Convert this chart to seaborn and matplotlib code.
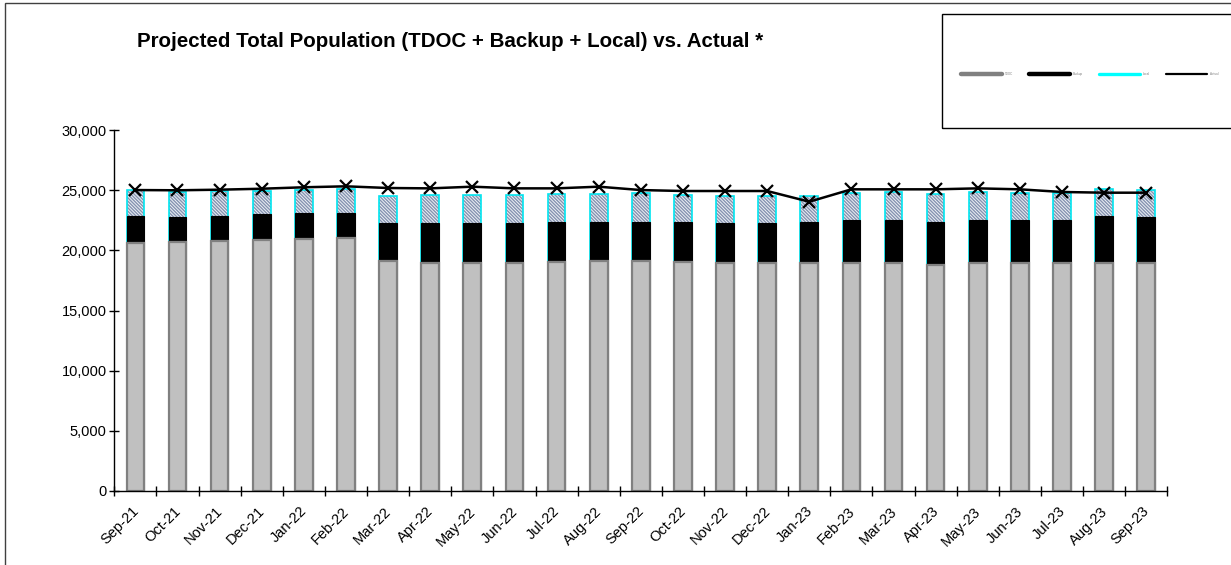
import numpy as np
import pandas as pd
import seaborn as sns
import matplotlib.pyplot as plt
from matplotlib.lines import Line2D
from matplotlib.patches import Rectangle
from matplotlib.transforms import ScaledTranslation

months = ["Sep-21", "Oct-21", "Nov-21", "Dec-21", "Jan-22", "Feb-22", "Mar-22",
          "Apr-22", "May-22", "Jun-22", "Jul-22", "Aug-22", "Sep-22", "Oct-22",
          "Nov-22", "Dec-22", "Jan-23", "Feb-23", "Mar-23", "Apr-23", "May-23",
          "Jun-23", "Jul-23", "Aug-23", "Sep-23"]

tdoc = [20590, 20670, 20780, 20860, 20920, 21000, 19110, 18970, 18920, 18970,
        19030, 19140, 19110, 19060, 18970, 18920, 18970, 18920, 18920, 18780,
        18920, 18920, 18920, 18970, 18970]
backup = [2260, 2130, 2100, 2130, 2150, 2070, 3140, 3280, 3330, 3330,
          3300, 3240, 3220, 3270, 3280, 3380, 3360, 3600, 3600, 3600,
          3600, 3600, 3600, 3880, 3830]
local = [2160, 2070, 2070, 1960, 1940, 2000, 2300, 2330, 2330, 2270,
         2320, 2270, 2460, 2270, 2270, 2210, 2210, 2220, 2330, 2270,
         2330, 2270, 2220, 2270, 2210]
actual = [25010, 24990, 25040, 25120, 25240, 25320, 25180, 25150, 25290, 25150,
          25150, 25290, 25010, 24930, 24930, 24930, 24040, 25070, 25070, 25070,
          25150, 25070, 24850, 24790, 24790]

legend_labels = ["TDOC", "Backup", "Local", "Actual"]

df = pd.DataFrame({"month": months, "tdoc": tdoc, "backup": backup,
                   "local": local, "actual": actual})
df["backup_top"] = df["tdoc"] + df["backup"]
df["local_top"] = df["backup_top"] + df["local"]
pos = np.arange(len(df))

sns.set_style("ticks")
plt.rcParams["font.family"] = ["Liberation Sans", "DejaVu Sans"]
plt.rcParams["text.color"] = "black"
plt.rcParams["xtick.color"] = "black"
plt.rcParams["ytick.color"] = "black"
plt.rcParams["hatch.linewidth"] = 1.0

W, H = 1231, 565
fig = plt.figure(figsize=(W / 100, H / 100), dpi=100)
ax = fig.add_axes([114.3 / W, 1 - 491 / H, 1053 / W, 361 / H])

bw = 0.42
# local (hatched) layer drawn as full stack height, then covered from below
sns.barplot(data=df, x="month", y="local_top", color="#eef1f6", saturation=1,
            width=bw, edgecolor="#8593b0", hatch="\\" * 10, linewidth=0,
            errorbar=None, ax=ax)
sns.barplot(data=df, x="month", y="local_top", color="#00e5f0", fill=False,
            width=bw, linewidth=1.2, errorbar=None, ax=ax)
sns.barplot(data=df, x="month", y="backup_top", color="black", saturation=1,
            width=bw, edgecolor="black", linewidth=0.8, errorbar=None, ax=ax)
sns.barplot(data=df, x="month", y="tdoc", color="#c0c0c0", saturation=1,
            width=bw, edgecolor="#808080", linewidth=1.6, errorbar=None, ax=ax)

sns.lineplot(x=pos, y=df["actual"], color="black", linewidth=1.8, marker="x",
             markersize=8.5, markeredgewidth=1.6, markeredgecolor="black", ax=ax)

ax.set_xlim(-0.5, len(df) - 0.5)
ax.set_ylim(0, 30000)
ax.set_yticks(range(0, 30001, 5000))
ax.set_yticklabels([f"{v:,}" for v in range(0, 30001, 5000)], fontsize=10.5)
ax.set_xticks(np.arange(-0.5, len(df), 1.0))
ax.set_xticklabels([])
ax.set_xticks(pos, months, minor=True)
ax.tick_params(axis="x", which="major", direction="inout", length=6.5, width=1)
ax.tick_params(axis="x", which="minor", direction="in", length=3, width=1,
               pad=8, labelsize=10.5)
ax.tick_params(axis="y", direction="inout", length=7, width=1, pad=2)
shift = ScaledTranslation(-4 / 100, -2 / 100, fig.dpi_scale_trans)
for lab in ax.get_xticklabels(minor=True):
    lab.set_rotation(45)
    lab.set_ha("right")
    lab.set_va("top")
    lab.set_rotation_mode("anchor")
    lab.set_transform(lab.get_transform() + shift)
ax.set_xlabel("")
ax.set_ylabel("")
for side in ["top", "right"]:
    ax.spines[side].set_visible(False)
for side in ["left", "bottom"]:
    ax.spines[side].set_color("black")
    ax.spines[side].set_linewidth(1)

fig.text(137 / W, 1 - 47 / H, "Projected Total Population (TDOC + Backup + Local) vs. Actual *",
         fontsize=14.8, fontweight="bold", va="baseline", ha="left")

# outer border and legend box
fig.patches.append(Rectangle((5 / W, -0.05), 1.1, 1 - 3 / H + 0.05, transform=fig.transFigure,
                             fill=False, edgecolor="#404040", linewidth=1))
fig.patches.append(Rectangle((942 / W, 1 - 128 / H), 0.3, 114 / H, transform=fig.transFigure,
                             fill=False, edgecolor="black", linewidth=1))

handle_styles = [("#808080", 3.2), ("black", 3.2), ("#00ffff", 2.4), ("black", 1.6)]
starts = [961, 1029, 1099, 1166]
for x0, (c, lw), lab in zip(starts, handle_styles, legend_labels):
    fig.lines.append(Line2D([x0 / W, (x0 + 41) / W], [1 - 74 / H] * 2, color=c, linewidth=lw,
                            transform=fig.transFigure))
    fig.text((x0 + 44) / W, 1 - 74 / H, lab, fontsize=2.2, color="#808080", va="center")

fig.savefig("out.png", dpi=100)
